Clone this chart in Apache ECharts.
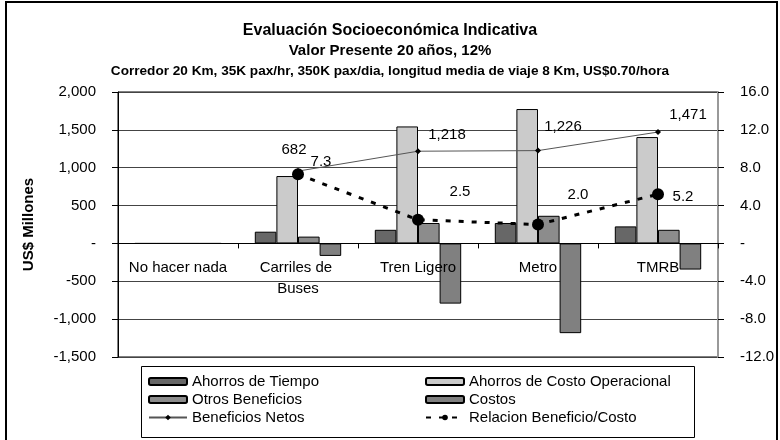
<!DOCTYPE html>
<html>
<head>
<meta charset="utf-8">
<script src="https://cdn.jsdelivr.net/npm/echarts@6/dist/echarts.min.js"></script>
<style>
  html, body { margin: 0; padding: 0; background: #fff; }
  #chart { width: 780px; height: 440px; }
</style>
</head>
<body>
<div id="chart"></div>
<script>
// categories and values (US$ millones, PV 20 years at 12%)
const categories = ['No hacer nada', 'Carriles de Buses', 'Tren Ligero', 'Metro', 'TMRB'];
const ahorrosTiempo = [0, 155, 180, 270, 225];
const ahorrosCostoOp = [0, 890, 1545, 1775, 1405];
const otrosBeneficios = [0, 90, 270, 365, 180];
const costos = [0, -165, -795, -1185, -345];
const beneficiosNetos = [null, 955, 1218, 1226, 1471];
const beneficiosNetosLabels = ['', '682', '1,218', '1,226', '1,471'];
const relacionBC = [null, 7.3, 2.5, 2.0, 5.2];

const FONT = '"Liberation Sans", Arial, sans-serif';

// label offsets (px) around each point, like the excel placement
const netOffsets = [[0, 0], [-4, -21], [29, -16], [25, -24], [30, -17]];
const bcOffsets = [[0, 0], [23, -12], [42, -28], [40, -30], [25, 3]];

// plot box
const GRID_TOP = 92, GRID_BOTTOM = 83, CHART_H = 440;
const Y_MIN = -1500, Y_MAX = 2000;
const plotH = CHART_H - GRID_TOP - GRID_BOTTOM;
// move category axis up from the bottom edge onto the zero line
const zeroOffset = -plotH * (0 - Y_MIN) / (Y_MAX - Y_MIN);

const chart = echarts.init(document.getElementById('chart'));

function fmtLeft(v) {
    if (v === 0) return '-';
    return v.toLocaleString('en-US');
}
function fmtRight(v) {
    if (v === 0) return '-';
    return v.toFixed(1);
}

function barSeries(name, values, color) {
    return {
        name: name,
        type: 'bar',
        data: values,
        barGap: 0,
        barCategoryGap: '28%',
        itemStyle: { color: color, borderColor: '#000', borderWidth: 1 },
        emphasis: { disabled: true }
    };
}

chart.setOption({
    animation: false,
    textStyle: { fontFamily: FONT },
    title: {
        text: '{a|Evaluación Socioeconómica Indicativa}\n{b|Valor Presente 20 años, 12%}',
        subtext: 'Corredor 20 Km, 35K pax/hr, 350K pax/dia, longitud media de viaje 8 Km, US$0.70/hora',
        left: 'center',
        top: 16,
        itemGap: 3,
        textStyle: {
            fontFamily: FONT, fontWeight: 'bold', color: '#000', lineHeight: 20,
            rich: {
                a: { fontFamily: FONT, fontSize: 16, fontWeight: 'bold', color: '#000', lineHeight: 20 },
                b: { fontFamily: FONT, fontSize: 15, fontWeight: 'bold', color: '#000', lineHeight: 20 }
            }
        },
        subtextStyle: { fontFamily: FONT, fontSize: 13.6, fontWeight: 'bold', color: '#000' }
    },
    grid: { left: 118, right: 62, top: GRID_TOP, bottom: GRID_BOTTOM, show: true, borderColor: '#000', borderWidth: 1 },
    legend: [
        {
            left: 143, top: 369, orient: 'vertical', itemGap: 3,
            itemWidth: 38, itemHeight: 7,
            textStyle: { fontFamily: FONT, fontSize: 15, color: '#000', lineHeight: 15 },
            data: ['Ahorros de Tiempo', 'Otros Beneficios', 'Beneficios Netos']
        },
        {
            left: 420, top: 369, orient: 'vertical', itemGap: 3,
            itemWidth: 38, itemHeight: 7,
            textStyle: { fontFamily: FONT, fontSize: 15, color: '#000', lineHeight: 15 },
            data: ['Ahorros de Costo Operacional', 'Costos', 'Relacion Beneficio/Costo']
        }
    ],
    graphic: [
        { type: 'rect', shape: { x: 6, y: 2, width: 771, height: 460 }, style: { fill: null, stroke: '#000', lineWidth: 2 }, silent: true },
        { type: 'rect', shape: { x: 141.5, y: 366.5, width: 553, height: 71 }, style: { fill: null, stroke: '#000', lineWidth: 1 }, silent: true }
    ],
    xAxis: {
        type: 'category',
        data: categories,
        offset: zeroOffset,
        z: 5,
        axisLine: { onZero: false, lineStyle: { color: '#000', width: 1 } },
        axisTick: { show: true, interval: 0, length: 5, lineStyle: { color: '#000' } },
        axisLabel: {
            interval: 0, color: '#000', fontSize: 15, margin: 14, lineHeight: 21,
            width: 110, overflow: 'break'
        }
    },
    yAxis: [
        {
            type: 'value',
            min: Y_MIN, max: Y_MAX, interval: 500,
            name: 'US$ Millones',
            nameLocation: 'middle',
            nameGap: 82,
            nameTextStyle: { fontFamily: FONT, fontSize: 15, fontWeight: 'bold', color: '#000' },
            axisLine: { show: true, lineStyle: { color: '#000' } },
            axisTick: { show: true, length: 6, lineStyle: { color: '#000' } },
            axisLabel: { color: '#000', fontSize: 15, margin: 22, formatter: fmtLeft },
            splitLine: { show: true, lineStyle: { color: '#444', width: 1 } }
        },
        {
            type: 'value',
            min: -12, max: 16, interval: 4,
            position: 'right',
            axisLine: { show: true, lineStyle: { color: '#999', width: 2 } },
            axisTick: { show: true, length: 6, lineStyle: { color: '#000' } },
            axisLabel: { color: '#000', fontSize: 15, margin: 22, formatter: fmtRight },
            splitLine: { show: false }
        }
    ],
    series: [
        barSeries('Ahorros de Tiempo', ahorrosTiempo, '#676767'),
        barSeries('Ahorros de Costo Operacional', ahorrosCostoOp, '#cbcbcb'),
        barSeries('Otros Beneficios', otrosBeneficios, '#8c8c8c'),
        barSeries('Costos', costos, '#808080'),
        {
            name: 'Beneficios Netos',
            type: 'line',
            yAxisIndex: 0,
            z: 6,
            symbol: 'diamond',
            symbolSize: 6,
            itemStyle: { color: '#000' },
            lineStyle: { color: '#555', width: 1 },
            emphasis: { disabled: true },
            data: beneficiosNetos.map((v, i) => ({
                value: v,
                label: {
                    show: v !== null,
                    position: 'inside',
                    offset: netOffsets[i],
                    formatter: beneficiosNetosLabels[i],
                    color: '#000', fontSize: 15, fontFamily: FONT
                }
            }))
        },
        {
            name: 'Relacion Beneficio/Costo',
            type: 'line',
            yAxisIndex: 1,
            z: 7,
            symbol: 'circle',
            symbolSize: 12,
            itemStyle: { color: '#000' },
            lineStyle: { color: '#000', width: 3, type: [5, 8] },
            emphasis: { disabled: true },
            data: relacionBC.map((v, i) => ({
                value: v,
                label: {
                    show: v !== null,
                    position: 'inside',
                    offset: bcOffsets[i],
                    formatter: v === null ? '' : v.toFixed(1),
                    color: '#000', fontSize: 15, fontFamily: FONT
                }
            }))
        }
    ]
});
</script>
</body>
</html>
